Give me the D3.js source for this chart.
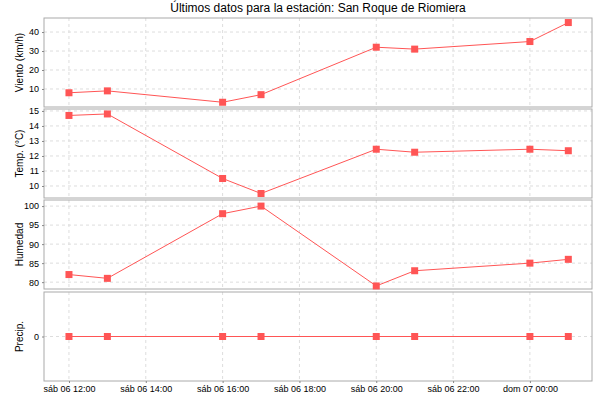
<!DOCTYPE html>
<html><head><meta charset="utf-8">
<script src="https://cdn.jsdelivr.net/npm/d3@7"></script>
<style>body{margin:0;background:#fff}text{font-family:"Liberation Sans",sans-serif}</style>
</head><body><svg id="c" width="600" height="400"></svg>
<script>
const times = ["2024-01-06T12:00","2024-01-06T13:00","2024-01-06T16:00","2024-01-06T17:00","2024-01-06T20:00","2024-01-06T21:00","2024-01-07T00:00","2024-01-07T01:00"];
const viento = [8, 9, 3, 7, 32, 31, 35, 45];
const temp = [14.7, 14.8, 10.5, 9.5, 12.45, 12.25, 12.45, 12.35];
const humedad = [82, 81, 98, 100, 79, 83, 85, 86];
const precip = [0, 0, 0, 0, 0, 0, 0, 0];
const dias = ["dom","lun","mar","mié","jue","vie","sáb"];

const svg = d3.select("#c");
const parse = d3.timeParse("%Y-%m-%dT%H:%M");
const dates = times.map(parse);
const L = 44, R = 592;
const x = d3.scaleTime()
  .domain([new Date(+dates[0] - 39*60000), new Date(+dates[7] + 37*60000)])
  .range([L, R]);

const panels = [
  {label:"Viento (km/h)", vals:viento, dom:[0.5,47.4], ticks:[10,20,30,40], y0:18, y1:107},
  {label:"Temp. (°C)", vals:temp, dom:[9.2,15.13], ticks:[10,11,12,13,14,15], y0:109, y1:198},
  {label:"Humedad", vals:humedad, dom:[78.2,101.6], ticks:[80,85,90,95,100], y0:200, y1:289},
  {label:"Precip.", vals:precip, dom:[-1,1], ticks:[0], y0:292, y1:381}
];

svg.append("text").attr("x",318).attr("y",12).attr("text-anchor","middle")
  .attr("font-size",12).text("Últimos datos para la estación: San Roque de Riomiera");

const xt = d3.timeHour.every(2).range(new Date(2024,0,6,12), new Date(2024,0,7,1));

panels.forEach(p => {
  const y = d3.scaleLinear().domain(p.dom).range([p.y1, p.y0]);
  const g = svg.append("g");
  g.append("rect").attr("x",L).attr("y",p.y0).attr("width",R-L).attr("height",p.y1-p.y0)
    .attr("fill","#fff");
  g.selectAll(".vx").data(xt).join("line").attr("x1",d=>x(d)).attr("x2",d=>x(d))
    .attr("y1",p.y0).attr("y2",p.y1).attr("stroke","#ddd").attr("stroke-dasharray","3,3");
  g.selectAll(".hy").data(p.ticks).join("line").attr("x1",L).attr("x2",R)
    .attr("y1",d=>y(d)).attr("y2",d=>y(d)).attr("stroke","#ddd").attr("stroke-dasharray","3,3");
  g.append("rect").attr("x",L).attr("y",p.y0).attr("width",R-L).attr("height",p.y1-p.y0)
    .attr("fill","none").attr("stroke","#aaa");
  const ax = g.append("g").attr("transform",`translate(${L},0)`)
    .call(d3.axisLeft(y).tickValues(p.ticks).tickSize(2).tickPadding(3).tickFormat(d3.format("d")));
  ax.select(".domain").remove();
  ax.selectAll("text").attr("font-size",9).attr("font-family","Liberation Sans, sans-serif");
  ax.selectAll("line").attr("stroke","#888");
  g.append("text").attr("transform",`translate(23,${(p.y0+p.y1)/2}) rotate(-90)`)
    .attr("text-anchor","middle").attr("font-size",10).text(p.label);
  const line = d3.line().x((d,i)=>x(dates[i])).y(d=>y(d));
  g.append("path").datum(p.vals).attr("d",line).attr("fill","none").attr("stroke","#ff5555").attr("stroke-width",1);
  g.selectAll(".pt").data(p.vals).join("rect")
    .attr("x",(d,i)=>x(dates[i])-3.5).attr("y",d=>y(d)-3.5).attr("width",7).attr("height",7)
    .attr("fill","#ff5555");
});

const xa = svg.append("g").attr("transform",`translate(0,381)`)
  .call(d3.axisBottom(x).tickValues(xt).tickSize(2).tickPadding(3)
    .tickFormat(d => dias[d.getDay()] + " " + d3.timeFormat("%d %H:%M")(d)));
xa.select(".domain").remove();
xa.selectAll("text").attr("font-size",9).attr("font-family","Liberation Sans, sans-serif");
xa.selectAll("line").attr("stroke","#888");
</script></body></html>
